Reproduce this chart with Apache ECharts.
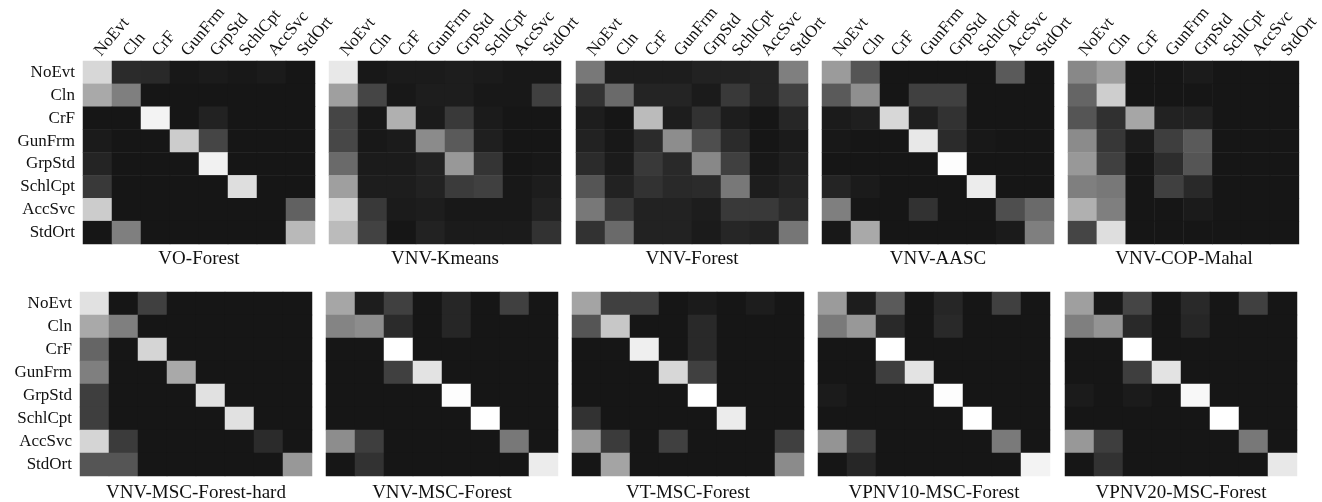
<!DOCTYPE html>
<html>
<head>
<meta charset="utf-8">
<script src="https://cdn.jsdelivr.net/npm/echarts@6/dist/echarts.min.js"></script>
<style>
html,body{margin:0;padding:0;background:#fff;}
#chart{width:1322px;height:502px;}
</style>
</head>
<body>
<div id="chart"></div>
<script>
const categories = ['NoEvt','Cln','CrF','GunFrm','GrpStd','SchlCpt','AccSvc','StdOrt'];
const titles = ['VO-Forest','VNV-Kmeans','VNV-Forest','VNV-AASC','VNV-COP-Mahal',
  'VNV-MSC-Forest-hard','VNV-MSC-Forest','VT-MSC-Forest','VPNV10-MSC-Forest','VPNV20-MSC-Forest'];

// rows = true class, columns = predicted class (values 0..1)
const voForest = [
  [0.83,0.09,0.08,0.01,0.02,0.01,0.02,0.00],
  [0.63,0.45,0.00,0.00,0.00,0.00,0.00,0.00],
  [0.00,0.00,0.95,0.00,0.05,0.00,0.00,0.00],
  [0.02,0.00,0.00,0.78,0.20,0.00,0.00,0.00],
  [0.06,0.00,0.00,0.00,0.94,0.00,0.00,0.00],
  [0.15,0.00,0.00,0.00,0.00,0.86,0.00,0.00],
  [0.78,0.00,0.00,0.00,0.00,0.00,0.00,0.32],
  [0.00,0.45,0.00,0.00,0.00,0.00,0.00,0.70]
];
const vnvKmeans = [
  [0.90,0.01,0.02,0.02,0.03,0.02,0.01,0.01],
  [0.59,0.20,0.01,0.03,0.03,0.01,0.01,0.18],
  [0.20,0.01,0.66,0.02,0.15,0.02,0.00,0.00],
  [0.21,0.01,0.02,0.50,0.29,0.04,0.00,0.00],
  [0.36,0.02,0.02,0.05,0.56,0.13,0.00,0.01],
  [0.59,0.03,0.03,0.05,0.16,0.18,0.01,0.03],
  [0.82,0.15,0.02,0.03,0.01,0.01,0.01,0.05],
  [0.71,0.19,0.00,0.05,0.02,0.02,0.02,0.12]
];
const vnvForest = [
  [0.42,0.03,0.03,0.03,0.05,0.05,0.06,0.45],
  [0.12,0.36,0.06,0.06,0.02,0.15,0.06,0.18],
  [0.03,0.00,0.71,0.03,0.12,0.03,0.00,0.07],
  [0.05,0.01,0.09,0.51,0.24,0.09,0.00,0.02],
  [0.09,0.02,0.15,0.08,0.49,0.18,0.01,0.04],
  [0.27,0.05,0.12,0.08,0.09,0.42,0.03,0.06],
  [0.42,0.15,0.05,0.05,0.03,0.15,0.15,0.09],
  [0.12,0.36,0.05,0.05,0.02,0.07,0.05,0.41]
];
const vnvAasc = [
  [0.57,0.27,0.00,0.00,0.00,0.00,0.29,0.00],
  [0.29,0.52,0.00,0.18,0.18,0.00,0.00,0.00],
  [0.02,0.04,0.83,0.04,0.12,0.00,0.00,0.00],
  [0.01,0.00,0.00,0.90,0.09,0.01,0.00,0.00],
  [0.00,0.00,0.00,0.00,0.99,0.00,0.00,0.00],
  [0.06,0.02,0.00,0.00,0.00,0.92,0.00,0.00],
  [0.45,0.00,0.00,0.12,0.00,0.00,0.24,0.36],
  [0.01,0.63,0.00,0.00,0.00,0.00,0.02,0.45]
];
const vnvCopMahal = [
  [0.49,0.59,0.00,0.00,0.02,0.00,0.00,0.00],
  [0.34,0.79,0.00,0.00,0.00,0.00,0.00,0.00],
  [0.27,0.11,0.62,0.05,0.05,0.00,0.00,0.00],
  [0.50,0.14,0.02,0.17,0.29,0.00,0.00,0.00],
  [0.56,0.18,0.00,0.10,0.27,0.00,0.00,0.00],
  [0.45,0.42,0.00,0.18,0.08,0.00,0.00,0.00],
  [0.66,0.45,0.00,0.00,0.02,0.00,0.00,0.00],
  [0.20,0.86,0.00,0.00,0.00,0.00,0.00,0.00]
];
const vnvMscForestHard = [
  [0.87,0.00,0.18,0.00,0.00,0.00,0.00,0.00],
  [0.63,0.45,0.00,0.00,0.00,0.00,0.00,0.00],
  [0.34,0.00,0.82,0.00,0.00,0.00,0.00,0.00],
  [0.45,0.00,0.00,0.63,0.00,0.00,0.00,0.00],
  [0.17,0.00,0.00,0.00,0.87,0.00,0.00,0.00],
  [0.17,0.00,0.00,0.00,0.00,0.87,0.00,0.00],
  [0.82,0.16,0.00,0.00,0.00,0.00,0.09,0.00],
  [0.27,0.27,0.00,0.00,0.00,0.00,0.00,0.56]
];
const vnvMscForest = [
  [0.62,0.03,0.18,0.00,0.07,0.00,0.18,0.00],
  [0.47,0.51,0.09,0.00,0.07,0.00,0.00,0.00],
  [0.00,0.00,1.00,0.00,0.00,0.00,0.00,0.00],
  [0.00,0.00,0.18,0.88,0.00,0.00,0.00,0.00],
  [0.00,0.00,0.00,0.00,0.99,0.00,0.00,0.00],
  [0.00,0.00,0.00,0.00,0.00,1.00,0.00,0.00],
  [0.51,0.17,0.00,0.00,0.00,0.00,0.42,0.00],
  [0.00,0.12,0.00,0.00,0.00,0.00,0.00,0.92]
];
const vtMscForest = [
  [0.61,0.18,0.18,0.00,0.02,0.00,0.03,0.00],
  [0.27,0.76,0.00,0.00,0.08,0.00,0.00,0.00],
  [0.00,0.00,0.93,0.00,0.08,0.00,0.00,0.00],
  [0.00,0.00,0.00,0.83,0.18,0.00,0.00,0.00],
  [0.00,0.00,0.00,0.00,1.00,0.00,0.00,0.00],
  [0.12,0.00,0.00,0.00,0.00,0.92,0.00,0.00],
  [0.56,0.16,0.00,0.18,0.00,0.00,0.00,0.18],
  [0.00,0.61,0.00,0.00,0.00,0.00,0.00,0.50]
];
const vpnv10MscForest = [
  [0.57,0.03,0.29,0.00,0.07,0.00,0.18,0.00],
  [0.43,0.56,0.08,0.00,0.08,0.00,0.00,0.00],
  [0.00,0.00,1.00,0.00,0.00,0.00,0.00,0.00],
  [0.00,0.00,0.17,0.88,0.00,0.00,0.00,0.00],
  [0.02,0.00,0.00,0.00,0.99,0.00,0.00,0.00],
  [0.00,0.00,0.00,0.00,0.00,1.00,0.00,0.00],
  [0.54,0.17,0.00,0.00,0.00,0.00,0.43,0.00],
  [0.00,0.07,0.00,0.00,0.00,0.00,0.00,0.95]
];
const vpnv20MscForest = [
  [0.59,0.01,0.20,0.00,0.08,0.00,0.18,0.00],
  [0.45,0.54,0.08,0.00,0.07,0.00,0.00,0.00],
  [0.00,0.00,1.00,0.00,0.00,0.00,0.00,0.00],
  [0.00,0.00,0.17,0.88,0.00,0.00,0.00,0.00],
  [0.02,0.00,0.02,0.00,0.97,0.00,0.00,0.00],
  [0.00,0.00,0.00,0.00,0.00,1.00,0.00,0.00],
  [0.56,0.17,0.00,0.00,0.00,0.00,0.42,0.00],
  [0.00,0.12,0.00,0.00,0.00,0.00,0.00,0.90]
];

const matrices = [voForest, vnvKmeans, vnvForest, vnvAasc, vnvCopMahal,
  vnvMscForestHard, vnvMscForest, vtMscForest, vpnv10MscForest, vpnv20MscForest];

const FONT = "'Liberation Serif','Times New Roman',serif";
const gridBoxes = [
  {left:83, top:61, width:232, height:183},
  {left:329, top:61, width:232, height:183},
  {left:576, top:61, width:232, height:183},
  {left:822, top:61, width:232, height:183},
  {left:1068, top:61, width:232, height:183},
  {left:80, top:292, width:232, height:184},
  {left:326, top:292, width:232, height:184},
  {left:572, top:292, width:232, height:184},
  {left:818, top:292, width:232, height:184},
  {left:1065, top:292, width:232, height:184}
];

const grid = [], xAxis = [], yAxis = [], series = [], title = [];
matrices.forEach((m, k) => {
  const g = gridBoxes[k];
  const topRow = k < 5;
  grid.push({left:g.left, top:g.top, width:g.width, height:g.height, containLabel:false});
  xAxis.push({
    type:'category', gridIndex:k, data:categories, position:'top',
    axisLine:{show:false}, axisTick:{show:false}, splitLine:{show:false},
    axisLabel:{show:topRow, rotate:-50, interval:0, margin:7, color:'#111', fontFamily:FONT, fontSize:17}
  });
  yAxis.push({
    type:'category', gridIndex:k, data:categories, inverse:true,
    axisLine:{show:false}, axisTick:{show:false}, splitLine:{show:false},
    axisLabel:{show:(k===0||k===5), interval:0, margin:8, color:'#111', fontFamily:FONT, fontSize:17}
  });
  const data = [];
  m.forEach((row, i) => row.forEach((v, j) => data.push([j, i, v])));
  series.push({
    type:'heatmap', xAxisIndex:k, yAxisIndex:k, data:data,
    emphasis:{disabled:true}, progressive:0
  });
  title.push({
    text:titles[k], left:g.left + g.width/2, top: topRow ? 259 : 493,
    textAlign:'center', textVerticalAlign:'middle', padding:0,
    textStyle:{fontFamily:FONT, fontSize:19, fontWeight:'normal', color:'#111'}
  });
});

const chart = echarts.init(document.getElementById('chart'), null, {renderer:'canvas'});
chart.setOption({
  animation:false,
  backgroundColor:'#fff',
  title:title,
  grid:grid, xAxis:xAxis, yAxis:yAxis,
  visualMap:{show:false, min:0, max:1, calculable:false, inRange:{color:['#161616','#ffffff']}},
  series:series
});
</script>
</body>
</html>
